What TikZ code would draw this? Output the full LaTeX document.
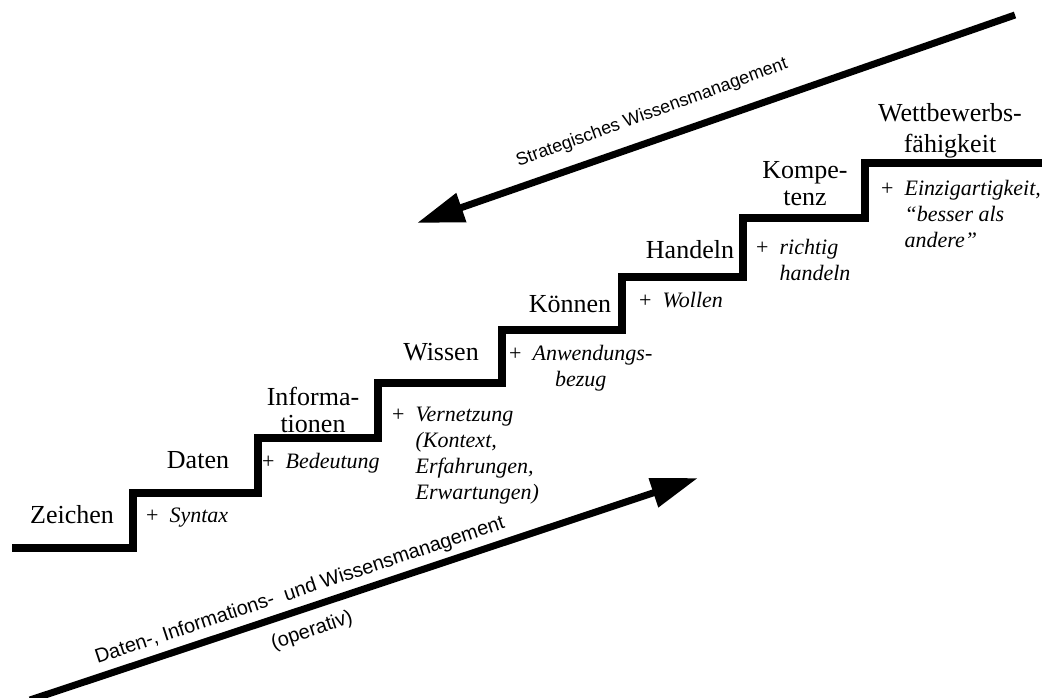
\documentclass[tikz,border=0pt]{standalone}
\usepackage{fontspec}
\setmainfont{Liberation Serif}
\newfontfamily\arialfont{Liberation Sans}
\usetikzlibrary{arrows.meta}

\begin{document}
\begin{tikzpicture}[x=1pt, y=-1pt,
    stair/.style={line width=7.5pt, line join=miter},
    flow/.style={line width=7pt, -{Triangle[length=47pt, width=29pt]}},
    stage/.style={font=\fontsize{26}{27}\selectfont, inner sep=0pt, align=center},
    addon/.style={font=\fontsize{22}{26}\selectfont, inner sep=0pt},
    flowlabel/.style={font=\arialfont\fontsize{18}{21}\selectfont, inner sep=0pt}]

    \useasboundingbox (0,0) rectangle (1058,698);

    % Treppe
    \draw[stair] (12,548) -- (133,548) -- (133,493) -- (258,493) -- (258,438)
        -- (378,438) -- (378,383) -- (502,383) -- (502,330) -- (622,330)
        -- (622,277) -- (743,277) -- (743,218) -- (865,218) -- (865,163) -- (1042,163);

    % Stufen
    \node[stage, anchor=base] (zeichen) at (72,523) {Zeichen};
    \node[stage, anchor=base] (daten) at (198,468) {Daten};
    \node[stage, anchor=north] (informationen) at (313,387) {Informa-\\tionen};
    \node[stage, anchor=base] (wissen) at (441,360) {Wissen};
    \node[stage, anchor=base] (koennen) at (570,312) {Können};
    \node[stage, anchor=base] (handeln) at (690,258) {Handeln};
    \node[stage, anchor=north] (kompetenz) at (805,161) {Kompe-\\tenz};
    \node[stage, anchor=north] (wettbewerb) at (950,103) {Wettbewerbs-\\[4pt]fähigkeit};

    % Zusaetze
    \node[addon, anchor=base west] (syntax) at (146,522) {+\enspace\textit{Syntax}};
    \node[addon, anchor=base west] (bedeutung) at (262,468) {+\enspace\textit{Bedeutung}};
    \node[addon, anchor=north west, align=left] (vernetzung) at (392,407)
        {+\enspace\textit{Vernetzung}\\\hphantom{+\enspace}\textit{(Kontext,}\\
         \hphantom{+\enspace}\textit{Erfahrungen,}\\\hphantom{+\enspace}\textit{Erwartungen)}};
    \node[addon, anchor=north west, align=center] (anwendung) at (509,345)
        {+\enspace\textit{Anwendungs-}\\\textit{bezug}};
    \node[addon, anchor=base west] (wollen) at (639,307) {+\enspace\textit{Wollen}};
    \node[addon, anchor=north west, align=left] (richtig) at (756,239)
        {+\enspace\textit{richtig}\\\hphantom{+\enspace}\textit{handeln}};
    \node[addon, anchor=north west, align=left] (einzig) at (881,180)
        {+\enspace\textit{Einzigartigkeit,}\\\hphantom{+\enspace}\textit{“besser als}\\
         \hphantom{+\enspace}\textit{andere”}};

    % strategisch
    \coordinate (stratstart) at (1015,15);
    \coordinate (stratend) at (417,223);
    \draw[flow] (stratstart) -- (stratend);
    \node[flowlabel, rotate=20] (strategisch) at (652,113) {Strategisches Wissensmanagement};

    % operativ
    \coordinate (opstart) at (30,700);
    \coordinate (opend) at (698,478);
    \draw[flow] (opstart) -- (opend);
    \node[flowlabel, font=\arialfont\fontsize{20}{22}\selectfont, rotate=18.4] (operativtext) at (300,591)
        {Daten-, Informations-\ \ und Wissensmanagement};
    \node[flowlabel, font=\arialfont\fontsize{20}{22}\selectfont, rotate=18.4] (operativ) at (312,631) {(operativ)};
\end{tikzpicture}
\end{document}
